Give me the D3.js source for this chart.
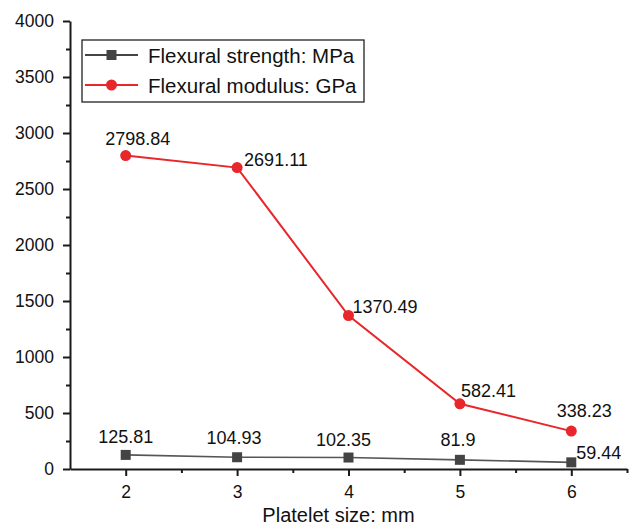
<!DOCTYPE html>
<html>
<head>
<meta charset="utf-8">
<script src="https://cdn.jsdelivr.net/npm/d3@7"></script>
<style>
  html, body { margin: 0; padding: 0; background: #fff; }
  svg text { font-family: "Liberation Sans", Arial, sans-serif; fill: #111; }
</style>
</head>
<body>
<svg id="chart" width="630" height="527"></svg>
<script>
// Platelet size (mm) on the x axis
const plateletSizes = [2, 3, 4, 5, 6];
// Series values
const flexuralStrength = [125.81, 104.93, 102.35, 81.9, 59.44];   // MPa
const flexuralModulus = [2798.84, 2691.11, 1370.49, 582.41, 338.23]; // GPa
const seriesNames = ["Flexural strength: MPa", "Flexural modulus: GPa"];
// Axis ticks
const xTicks = [2, 3, 4, 5, 6];
const xMinorTicks = [2.5, 3.5, 4.5, 5.5, 6.5];
const yTicks = [0, 500, 1000, 1500, 2000, 2500, 3000, 3500, 4000];
const yMinorTicks = [250, 750, 1250, 1750, 2250, 2750, 3250, 3750];

// Value label nudges (dx, dy, anchor) per point
const strengthLabelPos = [
  [0, -12, "middle"], [-3, -13, "middle"], [-5, -12, "middle"], [-2, -14, "middle"], [5, -3, "start"]
];
const modulusLabelPos = [
  [12, -11, "middle"], [7, -2, "start"], [4, -3, "start"], [1, -7, "start"], [13, -14, "middle"]
];

const svg = d3.select("#chart");
const plotLeft = 70, plotRight = 627, plotTop = 21, plotBottom = 469;

const x = d3.scaleLinear().domain([1.5, 6.5]).range([plotLeft, plotRight]);
const y = d3.scaleLinear().domain([0, 4000]).range([plotBottom, plotTop]);

const axisColor = "#1a1a1a";

// Y axis
const yAxis = svg.append("g").attr("transform", `translate(${plotLeft},0)`)
  .call(d3.axisLeft(y).tickValues(yTicks).tickSize(7).tickPadding(9).tickSizeOuter(0).tickFormat(d3.format("d")));
yAxis.select(".domain").attr("stroke", axisColor).attr("stroke-width", 2);
yAxis.selectAll(".tick line").attr("stroke", axisColor).attr("stroke-width", 2);
yAxis.selectAll(".tick text").attr("font-size", "17.5px").attr("fill", "#111")
  .attr("font-family", "Liberation Sans, Arial, sans-serif");
const yMinor = svg.append("g").attr("transform", `translate(${plotLeft},0)`)
  .call(d3.axisLeft(y).tickValues(yMinorTicks).tickSize(4).tickFormat("").tickSizeOuter(0));
yMinor.select(".domain").remove();
yMinor.selectAll(".tick line").attr("stroke", axisColor).attr("stroke-width", 2);

// X axis
const xAxis = svg.append("g").attr("transform", `translate(0,${plotBottom})`)
  .call(d3.axisBottom(x).tickValues(xTicks).tickSize(7).tickPadding(10).tickSizeOuter(0).tickFormat(d3.format("d")));
xAxis.select(".domain").attr("stroke", axisColor).attr("stroke-width", 2);
xAxis.selectAll(".tick line").attr("stroke", axisColor).attr("stroke-width", 2);
xAxis.selectAll(".tick text").attr("font-size", "17.5px").attr("fill", "#111")
  .attr("font-family", "Liberation Sans, Arial, sans-serif");
const xMinor = svg.append("g").attr("transform", `translate(0,${plotBottom})`)
  .call(d3.axisBottom(x).tickValues(xMinorTicks).tickSize(4).tickFormat("").tickSizeOuter(0));
xMinor.select(".domain").remove();
xMinor.selectAll(".tick line").attr("stroke", axisColor).attr("stroke-width", 2);

// Axis title
svg.append("text")
  .attr("x", (x(1.5) + x(6.5)) / 2 - 10)
  .attr("y", 522)
  .attr("text-anchor", "middle")
  .attr("font-size", "20px")
  .text("Platelet size: mm");

const line = d3.line().x(d => x(d[0])).y(d => y(d[1]));

// Flexural modulus series (red, circles)
const red = "#e8262b";
const modPts = plateletSizes.map((s, i) => [s, flexuralModulus[i]]);
svg.append("path").datum(modPts).attr("d", line)
  .attr("fill", "none").attr("stroke", red).attr("stroke-width", 2);
svg.selectAll("circle.mod").data(modPts).enter().append("circle")
  .attr("class", "mod")
  .attr("cx", d => x(d[0])).attr("cy", d => y(d[1])).attr("r", 5.5)
  .attr("fill", red);

// Flexural strength series (dark grey, squares)
const grey = "#444444";
const strPts = plateletSizes.map((s, i) => [s, flexuralStrength[i]]);
svg.append("path").datum(strPts).attr("d", line)
  .attr("fill", "none").attr("stroke", "#555").attr("stroke-width", 1.6);
svg.selectAll("rect.str").data(strPts).enter().append("rect")
  .attr("class", "str")
  .attr("x", d => x(d[0]) - 5).attr("y", d => y(d[1]) - 5)
  .attr("width", 10).attr("height", 10)
  .attr("fill", grey);

// Value labels
function fmt(v) { return String(v); }
svg.selectAll("text.modlab").data(modPts).enter().append("text")
  .attr("class", "modlab")
  .attr("x", (d, i) => x(d[0]) + modulusLabelPos[i][0])
  .attr("y", (d, i) => y(d[1]) + modulusLabelPos[i][1])
  .attr("text-anchor", (d, i) => modulusLabelPos[i][2])
  .attr("font-size", "18px")
  .text(d => fmt(d[1]));
svg.selectAll("text.strlab").data(strPts).enter().append("text")
  .attr("class", "strlab")
  .attr("x", (d, i) => x(d[0]) + strengthLabelPos[i][0])
  .attr("y", (d, i) => y(d[1]) + strengthLabelPos[i][1])
  .attr("text-anchor", (d, i) => strengthLabelPos[i][2])
  .attr("font-size", "18px")
  .text(d => fmt(d[1]));

// Legend
const lg = svg.append("g");
lg.append("rect").attr("x", 82).attr("y", 40).attr("width", 282).attr("height", 62)
  .attr("fill", "#fff").attr("stroke", "#222").attr("stroke-width", 1.3);
const legendItems = [
  { name: seriesNames[0], color: "#444", marker: "square", lineColor: "#444" },
  { name: seriesNames[1], color: red, marker: "circle", lineColor: red }
];
legendItems.forEach((it, i) => {
  const cy = 55 + i * 30;
  lg.append("line").attr("x1", 85).attr("x2", 138).attr("y1", cy).attr("y2", cy)
    .attr("stroke", it.lineColor).attr("stroke-width", 2);
  if (it.marker === "square") {
    lg.append("rect").attr("x", 111.5 - 5).attr("y", cy - 5).attr("width", 10).attr("height", 10)
      .attr("fill", it.color);
  } else {
    lg.append("circle").attr("cx", 111.5).attr("cy", cy).attr("r", 5.5).attr("fill", it.color);
  }
  lg.append("text").attr("x", 148).attr("y", cy + 7.5).attr("font-size", "20.5px").text(it.name);
});
</script>
</body>
</html>
